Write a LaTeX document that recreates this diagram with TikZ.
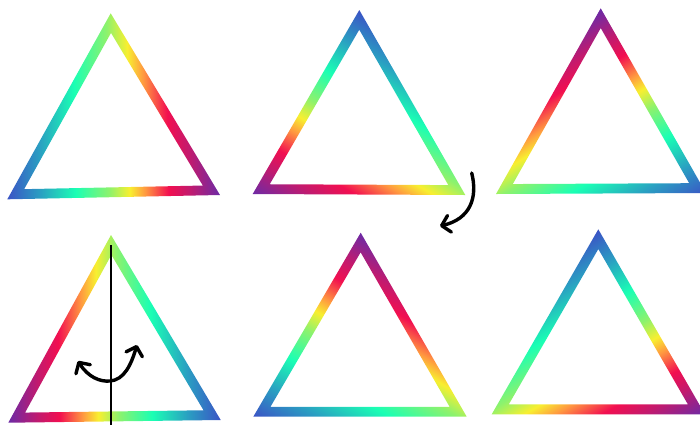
\documentclass[tikz,border=0pt]{standalone}
\usetikzlibrary{calc,arrows.meta}

\definecolor{rbBlue}{HTML}{3A55C5}
\definecolor{rbTeal}{HTML}{2A9EC2}
\definecolor{rbSpring}{HTML}{1AFFB4}
\definecolor{rbLime}{HTML}{8EF26C}
\definecolor{rbYellow}{HTML}{F8EF30}
\definecolor{rbOrange}{HTML}{FF9840}
\definecolor{rbRed}{HTML}{F20F50}
\definecolor{rbCrimson}{HTML}{C21A6E}
\definecolor{rbPurple}{HTML}{6E2AA4}

\pgfdeclarehorizontalshading{rainbow}{100bp}{%
  color(0bp)=(rbBlue); color(37.5bp)=(rbBlue);
  color(41.25bp)=(rbTeal); color(45.5bp)=(rbSpring);
  color(49.5bp)=(rbLime); color(51.9bp)=(rbYellow);
  color(53.75bp)=(rbOrange); color(56.5bp)=(rbRed);
  color(59bp)=(rbCrimson); color(62.5bp)=(rbPurple);
  color(100bp)=(rbPurple)}

\tikzset{
  ring/.style={shading=rainbow, even odd rule},
  pen/.style={line width=3.4pt, line cap=round, line join=round}
}

\begin{document}
\begin{tikzpicture}[x=1pt,y=-1pt,>={Straight Barb[length=8pt,width=17pt,round]}]
  \useasboundingbox (0,0) rectangle (700,424);
  \clip (0,0) rectangle (700,424);
  % name / top / left / right / shading angle
  \foreach \n/\tx/\ty/\lx/\ly/\rx/\ry/\ang in {
      T1/110.7/13.3/7.3/199.3/220/195/1,
      T2/359.3/10/252.7/194/465.3/195/240,
      T3/600.7/8.3/496/194/706/193/120,
      T4/111/235/8.3/422.7/220.7/420/181,
      T5/360.7/232.7/253.3/416.7/466.7/416.7/60,
      T6/598.3/229.3/491.7/414.3/705/414.3/300} {
    \coordinate (\n-top) at (\tx,\ty);
    \coordinate (\n-left) at (\lx,\ly);
    \coordinate (\n-right) at (\rx,\ry);
    \coordinate (\n-m) at ($(\n-left)!0.5!(\n-right)$);
    \coordinate (\n-c) at ($(\n-top)!2/3!(\n-m)$);
    \shade[ring, shading angle=\ang]
      ($(\n-c)+(-212,-212)$) ($(\n-c)+(212,212)$)
      (\n-top) -- (\n-left) -- (\n-right) -- cycle
      ($(\n-c)!0.84!(\n-top)$) -- ($(\n-c)!0.84!(\n-left)$)
        -- ($(\n-c)!0.84!(\n-right)$) -- cycle;
  }

  % mirror axis
  \coordinate (axisTop) at (111,245);
  \coordinate (axisBot) at (111,430);
  \draw[line width=2.4pt] (axisTop) -- (axisBot);

  % flip
  \coordinate (flipL) at (78,361);
  \coordinate (flipB) at (110,381);
  \coordinate (flipR) at (137,345);
  \draw[pen,<->] (flipL) .. controls (88,377) and (100,382) .. (flipB)
    .. controls (124,380) and (131,365) .. (flipR);

  % turn
  \coordinate (turnA) at (471.7,173);
  \coordinate (turnB) at (440,226);
  \draw[pen,->] (turnA) .. controls (478,198) and (470,219) .. (turnB);
\end{tikzpicture}
\end{document}
